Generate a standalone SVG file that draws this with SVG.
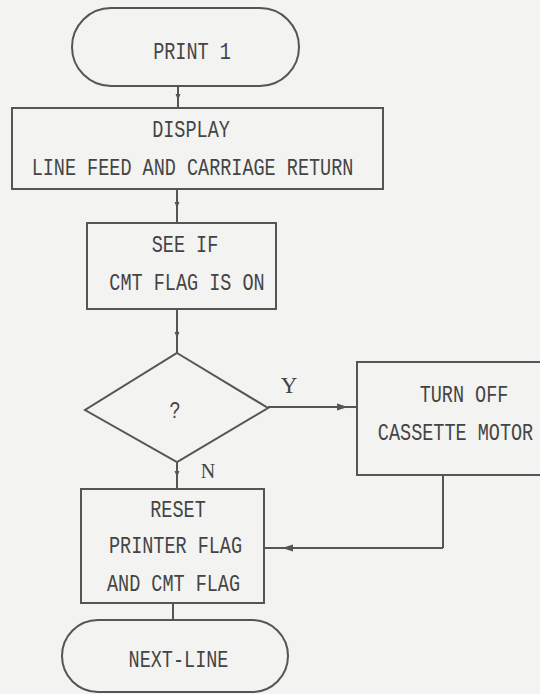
<svg xmlns="http://www.w3.org/2000/svg" width="540" height="694" viewBox="0 0 540 694">
<style>
.box{fill:none;stroke:#555;stroke-width:2}
.ln{fill:none;stroke:#555;stroke-width:2}
.t{font-family:"Liberation Mono","DejaVu Sans Mono",monospace;font-size:18.5px;fill:#444;text-anchor:middle}
.s{font-family:"Liberation Serif","Times New Roman",serif;fill:#444;text-anchor:middle}
</style>
<defs>
<marker id="ah" markerWidth="11" markerHeight="8" refX="5" refY="4" orient="auto" markerUnits="userSpaceOnUse">
<path d="M0,0.5 L11,4 L0,7.5 Z" fill="#555"/>
</marker>
<marker id="tk" markerWidth="6" markerHeight="6" refX="3" refY="3" orient="auto" markerUnits="userSpaceOnUse">
<path d="M0,0.5 L6,3 L0,5.5 Z" fill="#555"/>
</marker>
</defs>
<rect width="540" height="694" fill="#f3f3f1"/>
<g id="connectors">
<polyline class="ln" points="178,86 178,97 178,108" marker-mid="url(#tk)"/>
<polyline class="ln" points="177,189 177,205 177,223" marker-mid="url(#tk)"/>
<polyline class="ln" points="177,309 177,335 177,353" marker-mid="url(#tk)"/>
<polyline class="ln" points="268,407 342,407 357,407" marker-mid="url(#ah)"/>
<polyline class="ln" points="177,462 177,474 177,489" marker-mid="url(#tk)"/>
<line class="ln" x1="443" y1="475" x2="443" y2="548"/>
<polyline class="ln" points="443,548 288,548 264,548" marker-mid="url(#ah)"/>
<line class="ln" x1="173" y1="603" x2="173" y2="620"/>
</g>
<g id="print1">
<rect class="box" x="72" y="8" width="227" height="78" rx="39"/>
<text class="t" transform="translate(192 59) scale(1 1.3)">PRINT 1</text>
</g>
<g id="display">
<rect class="box" x="12" y="108" width="371" height="81"/>
<text class="t" transform="translate(191 137) scale(1 1.3)">DISPLAY</text>
<text class="t" transform="translate(192.5 175) scale(1 1.3)">LINE FEED AND CARRIAGE RETURN</text>
</g>
<g id="seeif">
<rect class="box" x="87" y="223" width="189" height="86"/>
<text class="t" transform="translate(185 252) scale(1 1.3)">SEE IF</text>
<text class="t" transform="translate(187 290) scale(1 1.3)">CMT FLAG IS ON</text>
</g>
<g id="decision">
<polygon class="box" points="177,353 268,408 177,462 85,410"/>
<text class="t" transform="translate(175 418) scale(1 1.3)">?</text>
<text class="s" x="289" y="393" font-size="23">Y</text>
<text class="s" x="208" y="478" font-size="20">N</text>
</g>
<g id="turnoff">
<rect class="box" x="357" y="362" width="192" height="113"/>
<text class="t" transform="translate(464 402) scale(1 1.3)">TURN OFF</text>
<text class="t" transform="translate(455.5 440) scale(1 1.3)">CASSETTE MOTOR</text>
</g>
<g id="reset">
<rect class="box" x="81" y="489" width="183" height="114"/>
<text class="t" transform="translate(178 517) scale(1 1.3)">RESET</text>
<text class="t" transform="translate(175.5 553) scale(1 1.3)">PRINTER FLAG</text>
<text class="t" transform="translate(173.5 591) scale(1 1.3)">AND CMT FLAG</text>
</g>
<g id="nextline">
<rect class="box" x="62" y="620" width="226" height="72" rx="36"/>
<text class="t" transform="translate(178.5 667) scale(1 1.3)">NEXT-LINE</text>
</g>
</svg>
